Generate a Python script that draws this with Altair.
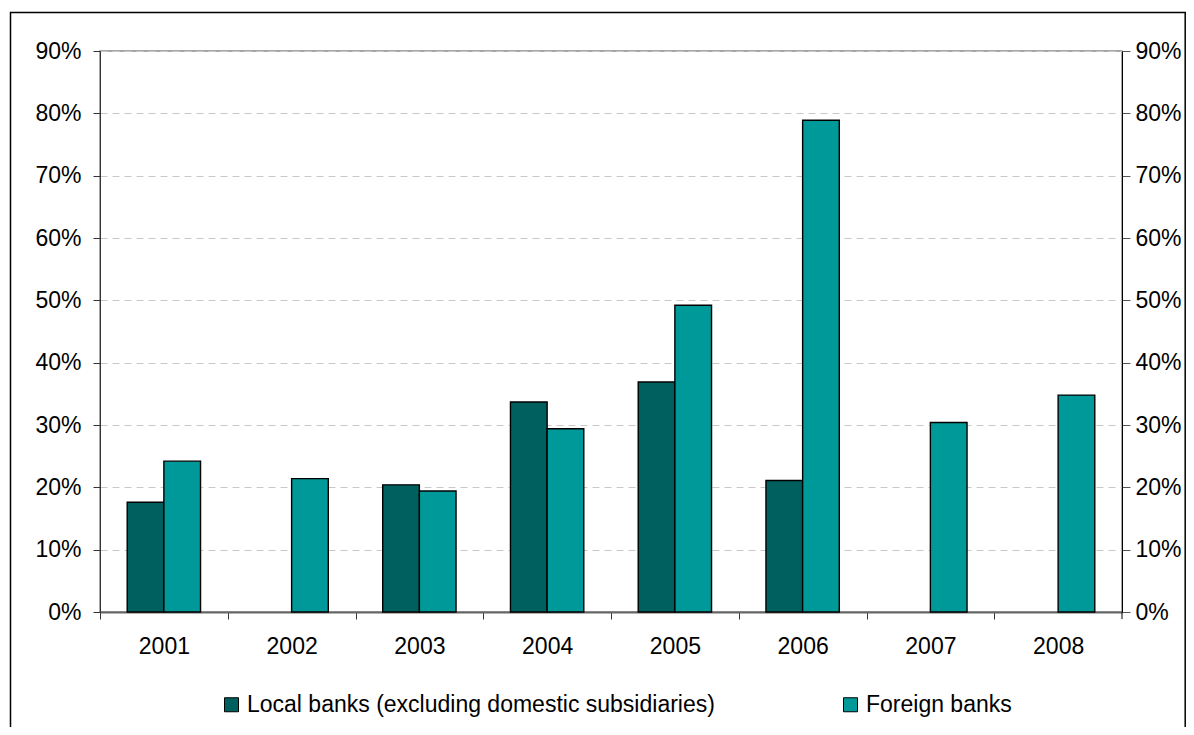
import altair as alt
import pandas as pd

years = ["2001", "2002", "2003", "2004", "2005", "2006", "2007", "2008"]
local_banks = [0.176, None, 0.204, 0.337, 0.369, 0.211, None, None]
foreign_banks = [0.242, 0.214, 0.194, 0.294, 0.492, 0.789, 0.304, 0.348]
series = ["Local banks (excluding domestic subsidiaries)", "Foreign banks"]
colors = ["#006060", "#009999"]
y_ticks = [0, 0.1, 0.2, 0.3, 0.4, 0.5, 0.6, 0.7, 0.8, 0.9]

rows = []
for yr, lv, fv in zip(years, local_banks, foreign_banks):
    if lv is not None:
        rows.append({"year": yr, "series": series[0], "value": lv})
    if fv is not None:
        rows.append({"year": yr, "series": series[1], "value": fv})
df = pd.DataFrame(rows)

FONT = "Liberation Sans"
FS = 23
W, H = 1022, 561
P_IN, P_OUT = 0.426, 0.213
STEP = W / (len(years) - P_IN + 2 * P_OUT)
HALF_GAP = STEP * P_IN / 2

xscale = alt.Scale(domain=years, paddingInner=P_IN, paddingOuter=P_OUT)

x_enc = alt.X(
    "year:N",
    sort=years,
    scale=xscale,
    axis=alt.Axis(
        title=None, labelAngle=0, grid=False,
        bandPosition=0, tickOffset=-HALF_GAP, labelOffset=HALF_GAP,
        domainColor="#666666", domainWidth=2, tickColor="#333333",
        tickSize=7, labelPadding=16, labelFontSize=FS, labelFont=FONT,
        labelColor="black",
    ),
)
xoff_enc = alt.XOffset("series:N", sort=series,
                       scale=alt.Scale(domain=series, paddingInner=0, paddingOuter=0))

yscale = alt.Scale(domain=[0, 0.9], nice=False, zero=True)

bars = alt.Chart(df).mark_bar(stroke="black", strokeWidth=1.4).encode(
    x=x_enc,
    xOffset=xoff_enc,
    y=alt.Y("value:Q", scale=yscale,
            axis=alt.Axis(title=None, orient="left", values=y_ticks, format=".0%",
                          grid=True, gridColor="#c8c8c8", gridDash=[7, 5],
                          domainColor="#333333", tickColor="#333333", tickSize=7,
                          labelPadding=12, labelFontSize=FS, labelFont=FONT,
                          labelColor="black")),
    color=alt.Color("series:N", sort=series,
                    scale=alt.Scale(domain=series, range=colors),
                    legend=alt.Legend(
                        title=None, orient="none", direction="horizontal",
                        legendX=120, legendY=642, padding=0,
                        symbolType="square", symbolSize=196,
                        symbolStrokeColor="black", symbolStrokeWidth=1,
                        labelFontSize=FS, labelFont=FONT, labelColor="black",
                        labelLimit=800, labelOffset=4, columnPadding=124)),
)

right_axis = alt.Chart(df).mark_bar(opacity=0).encode(
    x=alt.X("year:N", sort=years, scale=xscale),
    xOffset=xoff_enc,
    y=alt.Y("value:Q", scale=yscale,
            axis=alt.Axis(title=None, orient="right", values=y_ticks, format=".0%",
                          grid=False, domainColor="black", tickColor="#555555",
                          tickSize=8, labelPadding=5, labelFontSize=FS,
                          labelFont=FONT, labelColor="black")),
)

end_tick = alt.Chart(pd.DataFrame({"t": [0]})).mark_rule(color="black", strokeWidth=1).encode(
    x=alt.value(W), y=alt.value(H), y2=alt.value(H + 7),
)

border = alt.Chart(pd.DataFrame({"b": [0]})).mark_rect(
    filled=False, stroke="black", strokeWidth=1.5
).encode(
    x=alt.value(-89.5), x2=alt.value(1085.2),
    y=alt.value(-38.5), y2=alt.value(720),
)

chart = alt.layer(bars, right_axis, end_tick, border).resolve_scale(y="independent").properties(
    width=W, height=H,
    autosize=alt.AutoSizeParams(type="none"),
    padding={"left": 92, "top": 43, "right": 64, "bottom": 115},
    background="white",
).configure_view(stroke="#8c8c8c", strokeWidth=1.5)

chart.save("out.html", embed_options={"renderer": "svg", "actions": False})
